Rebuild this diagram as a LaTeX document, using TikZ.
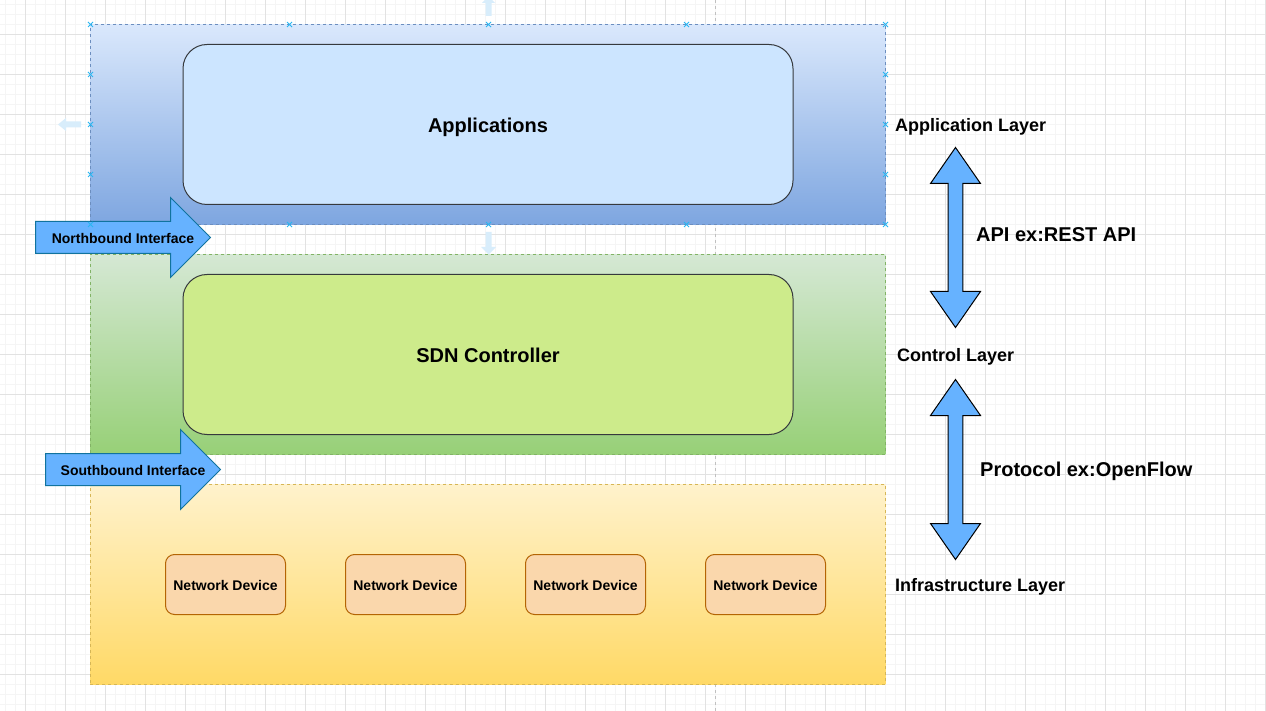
\documentclass[tikz,border=0pt]{standalone}
\usepackage{fontspec}
\setmainfont{Liberation Sans}
\definecolor{appTop}{HTML}{DAE8FC}
\definecolor{appBot}{HTML}{7EA6E0}
\definecolor{appLine}{HTML}{6C8EBF}
\definecolor{ctlTop}{HTML}{D5E8D4}
\definecolor{ctlBot}{HTML}{97D077}
\definecolor{ctlLine}{HTML}{82B366}
\definecolor{infTop}{HTML}{FFF2CC}
\definecolor{infBot}{HTML}{FFD966}
\definecolor{infLine}{HTML}{D6B656}
\definecolor{appFill}{HTML}{CCE5FF}
\definecolor{sdnFill}{HTML}{CDEB8B}
\definecolor{boxLine}{HTML}{36393D}
\definecolor{devFill}{HTML}{FAD7AC}
\definecolor{devLine}{HTML}{B46504}
\definecolor{arrFill}{HTML}{66B2FF}
\definecolor{arrLine}{HTML}{10739E}
\definecolor{gridMin}{HTML}{F5F5F5}
\definecolor{gridMaj}{HTML}{E2E2E2}
\definecolor{guideCol}{HTML}{C0C0C0}
\definecolor{hintCol}{HTML}{D8EDFB}
\definecolor{handleCol}{HTML}{29B6F2}
\begin{document}
\begin{tikzpicture}[x=1pt,y=-1pt,
  gridminor/.style={draw=gridMin, line width=1pt},
  gridmajor/.style={draw=gridMaj, line width=1pt},
  layer/.style={rectangle, minimum width=795pt, minimum height=200pt, inner sep=0pt,
    dash pattern=on 3pt off 3pt, line width=0.8pt},
  bigbox/.style={rectangle, rounded corners=24pt, minimum width=610pt, minimum height=160pt,
    draw=boxLine, line width=1pt, font=\bfseries\fontsize{20}{24}\selectfont,
    text height=18.1pt, text depth=2.24pt},
  device/.style={rectangle, rounded corners=9pt, minimum width=120pt, minimum height=60pt,
    fill=devFill, draw=devLine, line width=1pt, font=\bfseries\fontsize{14}{17}\selectfont,
    text height=12.67pt, text depth=1.47pt},
  sidelbl/.style={anchor=west, inner sep=0pt, font=\bfseries\fontsize{18}{21}\selectfont,
    text height=16.29pt, text depth=3.82pt},
  biglbl/.style={anchor=west, inner sep=0pt, font=\bfseries\fontsize{20}{24}\selectfont,
    text height=18.1pt, text depth=4.24pt},
  arrtext/.style={inner sep=0pt, font=\bfseries\fontsize{14}{17}\selectfont,
    text height=12.67pt, text depth=2.97pt},
  ifarrow/.style={fill=arrFill, draw=arrLine, line width=1pt, line join=miter},
  dblarrow/.style={fill=arrFill, draw=black, line width=1pt, line join=miter},
  hint/.style={fill=hintCol},
  handle/.style={draw=handleCol, line width=0.8pt}
]
\useasboundingbox (0,0) rectangle (1266,711);
\fill[white] (0,0) rectangle (1266,711);
% canvas grid
\foreach \x in {5.5,15.5,...,1265.5} \draw[gridminor] (\x,0) -- (\x,711);
\foreach \y in {4.5,14.5,...,710.5} \draw[gridminor] (0,\y) -- (1266,\y);
\foreach \x in {25.5,65.5,...,1265.5} \draw[gridmajor] (\x,0) -- (\x,711);
\foreach \y in {34.5,74.5,...,710.5} \draw[gridmajor] (0,\y) -- (1266,\y);
% guide line
\coordinate (gtop) at (715.5,0);
\coordinate (gbot) at (715.5,711);
\draw[guideCol, line width=1pt, dash pattern=on 3pt off 3pt] (gtop) -- (gbot);

% layers
\node[layer, top color=appTop, bottom color=appBot, draw=appLine] (applayer) at (487.8,124.3) {};
\node[layer, top color=ctlTop, bottom color=ctlBot, draw=ctlLine] (ctllayer) at (487.8,354.3) {};
\node[layer, top color=infTop, bottom color=infBot, draw=infLine] (inflayer) at (487.8,584.3) {};

% main boxes
\node[bigbox, fill=appFill] (apps) at (488,124.5) {Applications};
\node[bigbox, fill=sdnFill] (sdn) at (488,354.5) {SDN Controller};

% network devices
\node[device] (nd1) at (225.5,584.5) {Network Device};
\node[device] (nd2) at (405.5,584.5) {Network Device};
\node[device] (nd3) at (585.5,584.5) {Network Device};
\node[device] (nd4) at (765.5,584.5) {Network Device};

% interface arrows
\draw[ifarrow] (35.5,221.5) -- (170.5,221.5) -- (170.5,197.5) -- (210.5,237.5)
  -- (170.5,277.5) -- (170.5,253.5) -- (35.5,253.5) -- cycle;
\node[arrtext] (nbi) at (123,238.3) {Northbound Interface};
\draw[ifarrow] (45.5,453.5) -- (180.5,453.5) -- (180.5,429.5) -- (220.5,469.5)
  -- (180.5,509.5) -- (180.5,485.5) -- (45.5,485.5) -- cycle;
\node[arrtext] (sbi) at (133,470.3) {Southbound Interface};

% side labels
\node[sidelbl] (applbl) at (895,125) {Application Layer};
\node[sidelbl] (ctllbl) at (897,355) {Control Layer};
\node[sidelbl] (inflbl) at (895,585) {Infrastructure Layer};
\node[biglbl] (apilbl) at (976,235) {API ex:REST API};
\node[biglbl] (protolbl) at (980,470) {Protocol ex:OpenFlow};

% double arrows
\draw[dblarrow] (955.5,147.5) -- (980.5,183.5) -- (962.8,183.5) -- (962.8,291.5)
  -- (980.5,291.5) -- (955.5,327.5) -- (930.5,291.5) -- (948.2,291.5)
  -- (948.2,183.5) -- (930.5,183.5) -- cycle;
\draw[dblarrow] (955.5,379.5) -- (980.5,415.5) -- (962.8,415.5) -- (962.8,523.5)
  -- (980.5,523.5) -- (955.5,559.5) -- (930.5,523.5) -- (948.2,523.5)
  -- (948.2,415.5) -- (930.5,415.5) -- cycle;

% faint hover hints
\fill[hint] (482,3) -- (488.5,-4) -- (495,3) -- (491.5,3) -- (491.5,16) -- (485.5,16) -- (485.5,3) -- cycle;
\fill[hint] (485.5,232) -- (491.5,232) -- (491.5,247) -- (496,247) -- (488.5,254.5) -- (481,247) -- (485.5,247) -- cycle;
\fill[hint] (58,124.5) -- (66,118) -- (66,121.5) -- (81,121.5) -- (81,127.5) -- (66,127.5) -- (66,131) -- cycle;

% selection handles
\foreach \hx/\hy in {90.5/24.5, 289.5/24.5, 488.5/24.5, 686.5/24.5, 885.5/24.5,
  90.5/74.5, 90.5/124.5, 90.5/174.5, 885.5/74.5, 885.5/124.5, 885.5/174.5,
  90.5/224.5, 289.5/224.5, 488.5/224.5, 686.5/224.5, 885.5/224.5}
  \draw[handle] (\hx-2.5,\hy-2.5) -- (\hx+2.5,\hy+2.5) (\hx-2.5,\hy+2.5) -- (\hx+2.5,\hy-2.5);
\end{tikzpicture}
\end{document}
